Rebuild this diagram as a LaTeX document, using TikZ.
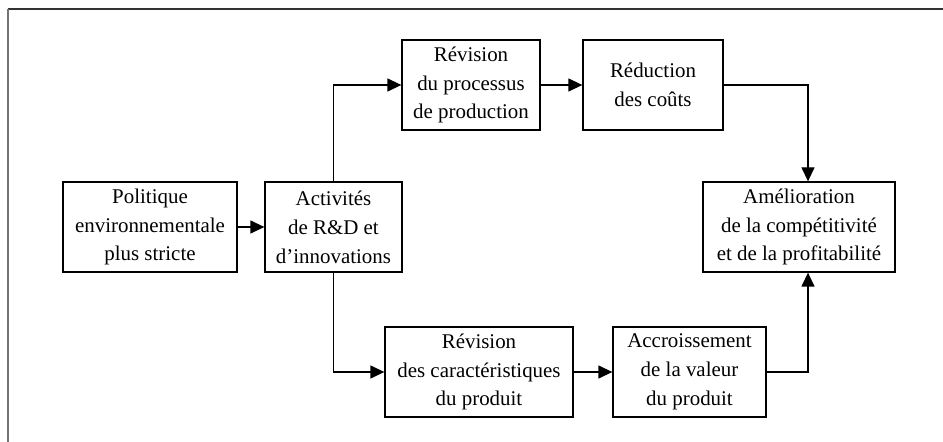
\documentclass[tikz,border=0pt]{standalone}
\usepackage{fontspec}
\setmainfont{Liberation Serif}
\usetikzlibrary{arrows.meta}
\begin{document}
\begin{tikzpicture}[x=1bp,y=-1bp,
  box/.style={draw,line width=1.3bp,rectangle,align=center,inner sep=0pt,
    font=\fontsize{21}{29}\selectfont},
  arr/.style={line width=1.3bp,-{Triangle[length=14bp,width=13bp]}},
  lnk/.style={line width=1.3bp}]
\useasboundingbox (0,0) rectangle (943,442);
\draw[line width=1.5bp,black!80] (8,9) -- (943,9);
\draw[line width=1.5bp,black!55] (8,9) -- (8,442);
\node[box,minimum width=174bp,minimum height=90bp] (pol) at (150,227) {Politique\\environnementale\\plus stricte};
\node[box,minimum width=137bp,minimum height=90bp] (act) at (333.5,227) {Activités\\de R\&D et\\d’innovations};
\node[box,minimum width=138bp,minimum height=90bp] (rp) at (471,85) {Révision\\du processus\\de production};
\node[box,minimum width=140bp,minimum height=90bp] (rc) at (653,85) {Réduction\\des coûts};
\node[box,minimum width=192bp,minimum height=90bp] (am) at (799,227) {Amélioration\\de la compétitivité\\et de la profitabilité};
\node[box,minimum width=188bp,minimum height=90bp] (rca) at (479,372) {Révision\\des caractéristiques\\du produit};
\node[box,minimum width=153bp,minimum height=90bp] (acc) at (689.5,372) {Accroissement\\de la valeur\\du produit};
\coordinate (vx2) at (808,0);
\draw[arr] (pol.east) -- (act.west);
\draw[arr] (act.north) |- (rp.west);
\draw[arr] (act.south) |- (rca.west);
\draw[arr] (rp.east) -- (rc.west);
\draw[arr] (rca.east) -- (acc.west);
\draw[arr] (rc.east) -| (vx2 |- am.north);
\draw[arr] (acc.east) -| (vx2 |- am.south);
\end{tikzpicture}
\end{document}
